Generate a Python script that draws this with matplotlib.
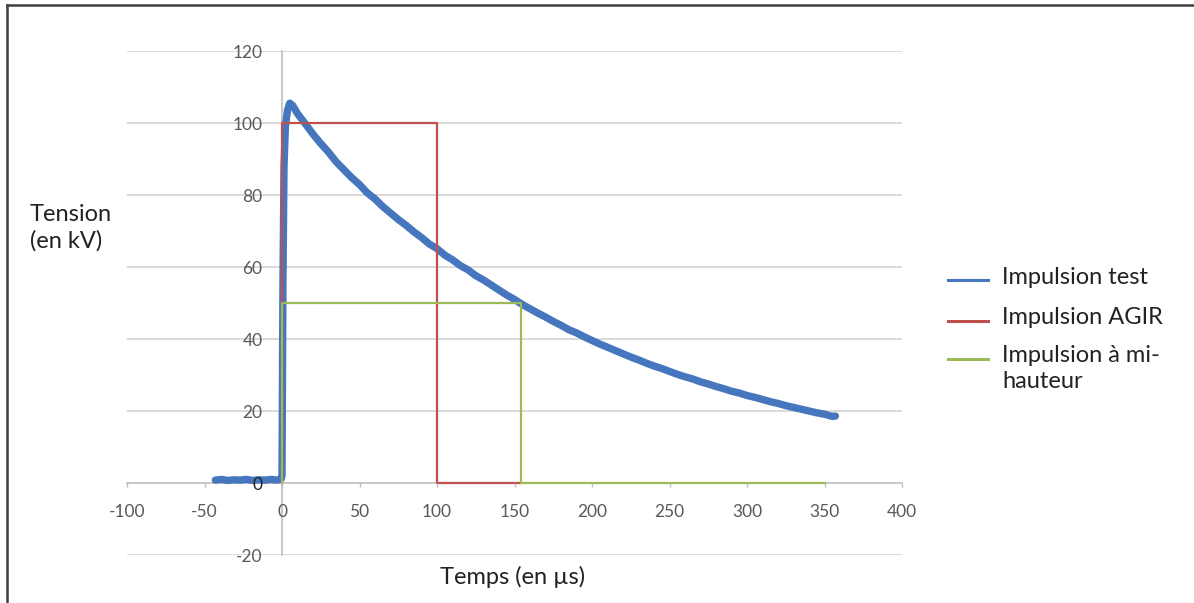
import matplotlib
matplotlib.use("Agg")
import matplotlib.pyplot as plt
from matplotlib.lines import Line2D

plt.rcParams["font.family"] = ["Lato", "DejaVu Sans"]
plt.rcParams["axes.unicode_minus"] = False

# ---- data ---------------------------------------------------------------- #
test_t = [-43, -39, -35, -31, -27, -23, -19, -15, -11, -7, -3, -0.5, 0.0,
          0.6, 1.3, 2.2, 3.5, 5, 7, 10, 15, 20, 25, 30, 35, 40, 45, 50, 55,
          60, 65, 70, 75, 80, 85, 90, 95, 100, 105, 110, 115, 120, 125, 130,
          135, 140, 145, 150, 155, 160, 165, 170, 175, 180, 185, 190, 195,
          200, 205, 210, 215, 220, 225, 230, 235, 240, 245, 250, 255, 260,
          265, 270, 275, 280, 285, 290, 295, 300, 305, 310, 315, 320, 325,
          330, 335, 340, 345, 350, 355, 357]
test_kv = [0.8, 1.0, 0.7, 0.9, 0.8, 1.0, 0.7, 0.9, 0.8, 1.0, 0.8, 1.2, 2.0,
           55.0, 88.0, 99.0, 103.5, 105.5, 104.8, 102.6, 99.8, 96.9, 94.3,
           91.9, 89.2, 87.0, 84.8, 82.9, 80.6, 78.9, 76.8, 75.0, 73.2, 71.6,
           69.8, 68.2, 66.4, 65.1, 63.3, 62.0, 60.4, 59.2, 57.6, 56.4, 55.0,
           53.6, 52.2, 51.0, 49.6, 48.4, 47.2, 46.1, 44.9, 43.8, 42.6, 41.7,
           40.6, 39.6, 38.6, 37.7, 36.8, 35.9, 35.0, 34.2, 33.3, 32.5, 31.8,
           31.0, 30.2, 29.5, 28.9, 28.1, 27.5, 26.8, 26.2, 25.5, 25.0, 24.3,
           23.8, 23.2, 22.6, 22.1, 21.5, 21.0, 20.5, 20.0, 19.5, 19.1, 18.5,
           18.6]

agir_t = [0, 0, 100, 100, 154]
agir_kv = [0, 100, 100, 0, 0]

half_t = [0, 0, 154, 154, 350]
half_kv = [0, 50, 50, 0, 0]

series_labels = ["Impulsion test", "Impulsion AGIR", "Impulsion à mi-\nhauteur"]
series_colors = ["#4677be", "#c0504d", "#9bbb59"]

x_ticks = [-100, -50, 0, 50, 100, 150, 200, 250, 300, 350, 400]
y_ticks = [-20, 0, 20, 40, 60, 80, 100, 120]

# ---- figure ---------------------------------------------------------------- #
W, H = 1194, 603
fig = plt.figure(figsize=(W / 100, H / 100), dpi=100)
ax = fig.add_axes([127 / W, 1 - 555 / H, 775 / W, 504 / H])

for y in y_ticks:
    if y != 0:
        ax.axhline(y, color="#d9d9d9", lw=1.4, zorder=0.5)

ax.plot(test_t, test_kv, color=series_colors[0], lw=5.3, zorder=2,
        solid_joinstyle="round", solid_capstyle="round")
ax.plot(agir_t, agir_kv, color=series_colors[1], lw=1.6, zorder=2.1)
ax.plot(half_t, half_kv, color=series_colors[2], lw=1.6, zorder=2.2)

ax.set_xlim(-100, 400)
ax.set_ylim(-20, 120)
ax.set_xticks(x_ticks)
ax.set_yticks(y_ticks)
ax.set_axisbelow(False)

for side in ("top", "right"):
    ax.spines[side].set_visible(False)
ax.spines["left"].set_position(("data", 0))
ax.spines["bottom"].set_position(("data", 0))
for side in ("left", "bottom"):
    ax.spines[side].set_color("#bfbfbf")
    ax.spines[side].set_linewidth(1.2)
    ax.spines[side].set_zorder(1)

ax.tick_params(axis="x", direction="out", length=3, width=1, color="#bfbfbf",
               pad=12, labelsize=12.5, labelcolor="#595959")
ax.tick_params(axis="y", length=0, pad=14, labelsize=12.5,
               labelcolor="#595959")
for lab in ax.get_yticklabels():
    if lab.get_text() == "0":
        lab.set_color("#222222")

fig.text(30 / W, 1 - 228 / H, "Tension\n(en kV)", fontsize=17,
         color="#222222", ha="left", va="center", linespacing=1.3)
fig.text(513 / W, 1 - 577 / H, "Temps (en µs)", fontsize=17,
         color="#222222", ha="center", va="center")

# legend, drawn by hand so the handle sits on the first text line
rows_y = [277, 318, 356]
for lab, col, ry in zip(series_labels, series_colors, rows_y):
    fig.add_artist(Line2D([948 / W, 988 / W], [1 - (ry + 3) / H] * 2,
                          color=col, lw=2.2, transform=fig.transFigure))
    for k, line in enumerate(lab.split("\n")):
        fig.text(1002 / W, 1 - (ry + 26 * k) / H, line, fontsize=17,
                 color="#222222", ha="left", va="center")

# outer frame (top and left edges visible in the reference)
fig.add_artist(Line2D([7 / W, 1], [1 - 5 / H] * 2, color="#404040", lw=1.8,
                      transform=fig.transFigure))
fig.add_artist(Line2D([7 / W] * 2, [0, 1 - 5 / H], color="#404040", lw=1.8,
                      transform=fig.transFigure))

fig.savefig("out.png", dpi=100)
